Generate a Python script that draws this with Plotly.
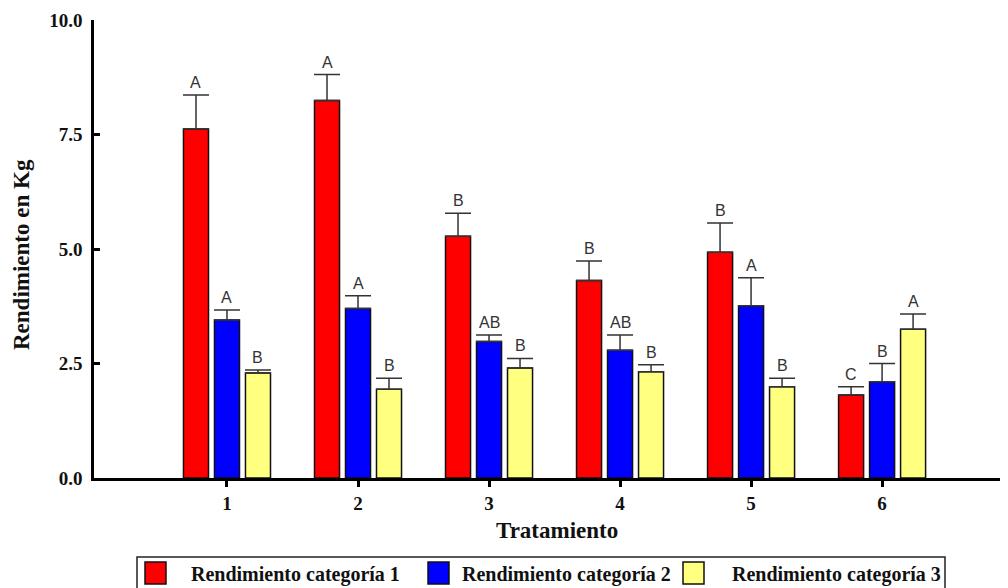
import plotly.graph_objects as go

# Yield by treatment and category (kg), with standard errors and significance letters
tratamientos = [1, 2, 3, 4, 5, 6]
series_names = ["Rendimiento categoría 1", "Rendimiento categoría 2", "Rendimiento categoría 3"]

cat1 = [7.62, 8.24, 5.28, 4.31, 4.93, 1.81]
cat2 = [3.45, 3.70, 2.98, 2.79, 3.76, 2.10]
cat3 = [2.29, 1.94, 2.40, 2.32, 1.99, 3.25]

err1 = [0.74, 0.57, 0.50, 0.43, 0.64, 0.18]
err2 = [0.22, 0.28, 0.14, 0.33, 0.61, 0.40]
err3 = [0.07, 0.24, 0.21, 0.15, 0.19, 0.33]

letras1 = ["A", "A", "B", "B", "B", "C"]
letras2 = ["A", "A", "AB", "AB", "A", "B"]
letras3 = ["B", "B", "B", "B", "B", "A"]

y_ticks = [0.0, 2.5, 5.0, 7.5, 10.0]

colors = ["#FF0000", "#0000FF", "#FFFF80"]
values = [cat1, cat2, cat3]
errors = [err1, err2, err3]
letters = [letras1, letras2, letras3]

bar_w = 0.191
pitch = 0.2366

serif = "Liberation Serif, Times New Roman, serif"
sans = "Liberation Sans, Arial, sans-serif"

fig = go.Figure()
annotations = []
for i in range(3):
    shift = (i - 1) * pitch
    fig.add_trace(go.Bar(
        x=tratamientos,
        y=values[i],
        name=series_names[i],
        width=bar_w,
        offset=shift - bar_w / 2,
        marker=dict(color=colors[i], line=dict(color="#111111", width=1.5)),
        error_y=dict(type="data", symmetric=False, array=errors[i],
                     arrayminus=[0] * len(errors[i]),
                     color="#333333", thickness=1.5, width=13),
        showlegend=False,
    ))
    for t, v, e, lab in zip(tratamientos, values[i], errors[i], letters[i]):
        annotations.append(dict(
            x=t + shift, y=v + e, xref="x", yref="y", text=lab,
            showarrow=False, yanchor="bottom", yshift=2,
            font=dict(family=sans, size=16, color="#333333"),
        ))

# Legend box drawn below the plot
L, PW, T, PH = 94, 906, 20, 458


def px(xp):
    return (xp - L) / PW


def py(yp):
    return (T + PH - yp) / PH


shapes = [dict(type="rect", xref="paper", yref="paper",
               x0=px(137), x1=px(945), y0=py(600), y1=py(557),
               line=dict(color="#222222", width=1.5), fillcolor="rgba(0,0,0,0)")]
swatch_x = [145, 428, 683]
text_x = [189, 460, 730]
for i in range(3):
    shapes.append(dict(type="rect", xref="paper", yref="paper",
                       x0=px(swatch_x[i]), x1=px(swatch_x[i] + 21),
                       y0=py(584), y1=py(562),
                       line=dict(color="#111111", width=1.5), fillcolor=colors[i]))
    annotations.append(dict(
        x=px(text_x[i]), y=py(574), xref="paper", yref="paper",
        text="<b>" + series_names[i] + "</b>", showarrow=False,
        xanchor="left", yanchor="middle",
        font=dict(family=serif, size=20, color="#111111"),
    ))

annotations.append(dict(
    x=px(557), y=py(530), xref="paper", yref="paper", text="<b>Tratamiento</b>",
    showarrow=False, xanchor="center", yanchor="middle",
    font=dict(family=serif, size=23, color="#111111"),
))
annotations.append(dict(
    x=px(22), y=py(255), xref="paper", yref="paper", text="<b>Rendimiento en Kg</b>",
    showarrow=False, textangle=-90, xanchor="center", yanchor="middle",
    font=dict(family=serif, size=23, color="#111111"),
))

fig.update_layout(
    width=1008, height=588,
    margin=dict(l=L, r=1008 - L - PW, t=T, b=588 - T - PH),
    plot_bgcolor="white", paper_bgcolor="white",
    barmode="overlay",
    shapes=shapes,
    annotations=annotations,
    showlegend=False,
)
fig.update_xaxes(
    range=[-0.015, 6.9], tickmode="array", tickvals=tratamientos,
    ticktext=["<b>%d</b>" % t for t in tratamientos],
    showline=True, linecolor="black", linewidth=2.5,
    ticks="outside", ticklen=6, tickwidth=2.5, tickcolor="black",
    showgrid=False, zeroline=False,
    tickfont=dict(family=serif, size=19, color="#111111"),
)
fig.update_yaxes(
    range=[0, 10], tickmode="array", tickvals=y_ticks,
    ticktext=["<b>%.1f</b>" % v for v in y_ticks],
    showline=True, linecolor="black", linewidth=2.5,
    ticks="inside", ticklen=6, tickwidth=2.5, tickcolor="black",
    showgrid=False, zeroline=False, ticklabelstandoff=5,
    tickfont=dict(family=serif, size=19, color="#111111"),
)

fig.write_html("out.html")
